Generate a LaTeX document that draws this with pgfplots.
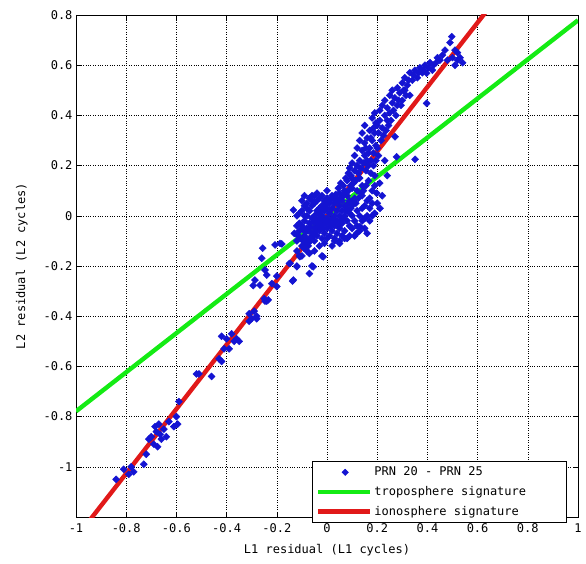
\documentclass[border=0pt]{standalone}
\usepackage{pgfplots}
\pgfplotsset{compat=1.18}
\usepackage{fontspec}
\setmainfont{DejaVu Sans Mono}
\definecolor{mblue}{RGB}{20,20,210}
\definecolor{mgreen}{RGB}{20,235,20}
\definecolor{mred}{RGB}{225,25,25}
\pgfplotstableread{
x y
-0.84 -1.05
-0.81 -1.01
-0.79 -1.03
-0.77 -1.02
-0.78 -1.00
-0.73 -0.99
-0.72 -0.95
-0.71 -0.89
-0.70 -0.88
-0.69 -0.91
-0.685 -0.84
-0.68 -0.86
-0.67 -0.83
-0.665 -0.87
-0.66 -0.89
-0.65 -0.85
-0.64 -0.88
-0.675 -0.92
-0.63 -0.82
-0.61 -0.84
-0.595 -0.83
-0.60 -0.80
-0.59 -0.74
-0.52 -0.63
-0.51 -0.63
-0.46 -0.64
-0.43 -0.57
-0.42 -0.58
-0.42 -0.48
-0.41 -0.53
-0.40 -0.49
-0.39 -0.53
-0.38 -0.47
-0.37 -0.50
-0.35 -0.50
-0.36 -0.49
-0.31 -0.42
-0.30 -0.41
-0.29 -0.38
-0.28 -0.40
-0.25 -0.33
-0.24 -0.34
-0.31 -0.39
-0.28 -0.41
-0.234 -0.335
-0.247 -0.34
-0.294 -0.278
-0.287 -0.256
-0.267 -0.276
-0.20 -0.282
-0.24 -0.236
-0.247 -0.216
-0.26 -0.169
-0.256 -0.129
-0.207 -0.116
-0.18 -0.112
-0.147 -0.189
-0.137 -0.26
-0.12 -0.203
-0.108 -0.163
-0.22 -0.27
-0.20 -0.24
-0.12 -0.10
-0.11 -0.06
-0.10 -0.12
-0.10 -0.04
-0.09 -0.08
-0.09 -0.02
-0.08 -0.11
-0.08 -0.05
-0.08 0.00
-0.07 -0.09
-0.07 -0.03
-0.07 0.02
-0.06 -0.07
-0.06 -0.01
-0.06 0.04
-0.05 -0.10
-0.05 -0.05
-0.05 0.00
-0.05 0.05
-0.04 -0.08
-0.04 -0.03
-0.04 0.02
-0.04 0.06
-0.03 -0.06
-0.03 -0.01
-0.03 0.03
-0.03 0.07
-0.02 -0.09
-0.02 -0.04
-0.02 0.00
-0.02 0.04
-0.01 -0.07
-0.01 -0.02
-0.01 0.02
-0.01 0.06
0.00 -0.05
0.00 -0.01
0.00 0.03
0.00 0.07
0.01 -0.08
0.01 -0.03
0.01 0.01
0.01 0.05
0.02 -0.06
0.02 -0.01
0.02 0.03
0.02 0.08
0.03 -0.04
0.03 0.00
0.03 0.05
0.04 -0.07
0.04 -0.02
0.04 0.02
0.04 0.07
0.05 -0.05
0.05 0.00
0.05 0.04
0.05 0.09
0.06 -0.03
0.06 0.02
0.06 0.06
0.07 -0.06
0.07 0.00
0.07 0.04
0.07 0.10
0.08 -0.02
0.08 0.03
0.08 0.08
0.09 -0.04
0.09 0.01
0.09 0.06
0.10 0.00
0.10 0.04
0.10 0.11
0.11 -0.02
0.11 0.07
0.12 0.02
0.12 0.10
-0.13 -0.07
-0.134 0.023
-0.11 0.01
-0.09 0.04
-0.06 0.08
-0.12 -0.14
-0.10 -0.16
-0.07 -0.15
-0.06 -0.20
-0.07 -0.23
-0.02 -0.16
-0.134 -0.256
-0.187 -0.11
-0.15 -0.19
-0.12 -0.20
-0.11 -0.16
-0.055 -0.203
-0.015 -0.163
0.02 -0.12
0.05 -0.10
0.08 -0.09
0.131 -0.043
0.118 -0.07
0.15 -0.01
0.17 0.03
0.16 0.06
0.211 0.03
0.198 0.09
0.18 0.10
0.14 0.08
0.14 0.12
0.13 0.15
0.10 0.15
0.11 0.18
0.08 0.14
0.09 0.19
0.10 0.21
0.11 0.24
0.12 0.20
0.12 0.27
0.13 0.22
0.13 0.30
0.14 0.26
0.14 0.33
0.15 0.24
0.15 0.29
0.15 0.36
0.16 0.31
0.16 0.22
0.17 0.27
0.17 0.34
0.18 0.39
0.18 0.30
0.19 0.33
0.19 0.41
0.20 0.36
0.20 0.27
0.21 0.42
0.21 0.38
0.22 0.44
0.22 0.35
0.23 0.40
0.23 0.46
0.24 0.43
0.24 0.38
0.25 0.48
0.25 0.41
0.26 0.45
0.26 0.50
0.27 0.47
0.271 0.315
0.277 0.235
0.28 0.51
0.28 0.44
0.29 0.49
0.30 0.53
0.30 0.46
0.31 0.55
0.31 0.50
0.32 0.52
0.33 0.57
0.33 0.48
0.34 0.54
0.35 0.58
0.351 0.225
0.36 0.55
0.37 0.59
0.38 0.57
0.39 0.60
0.397 0.568
0.397 0.448
0.41 0.61
0.42 0.58
0.424 0.60
0.435 0.61
0.44 0.63
0.45 0.62
0.46 0.64
0.47 0.66
0.48 0.62
0.49 0.69
0.497 0.714
0.50 0.63
0.51 0.60
0.52 0.62
0.52 0.65
0.53 0.63
0.54 0.61
0.51 0.66
0.23 0.22
0.19 0.16
0.21 0.13
0.24 0.16
-0.115 -0.08
-0.105 -0.09
-0.095 -0.05
-0.085 -0.065
-0.075 -0.06
-0.065 -0.045
-0.055 -0.025
-0.045 -0.015
-0.035 0.01
-0.025 0.02
-0.015 0.04
-0.005 0.045
0.005 0.06
0.015 0.065
0.025 0.07
0.035 0.085
0.045 0.06
0.055 0.07
0.065 0.08
0.075 0.09
0.085 0.10
0.095 0.12
0.105 0.13
0.115 0.14
-0.095 -0.10
-0.085 -0.09
-0.075 -0.12
-0.065 -0.10
-0.055 -0.08
-0.045 -0.06
-0.035 -0.04
-0.025 -0.02
-0.015 -0.05
-0.005 -0.03
0.005 -0.02
0.015 -0.04
0.025 -0.03
0.035 -0.02
0.045 -0.04
0.055 -0.02
0.065 -0.01
0.075 0.02
0.085 0.05
0.095 0.03
0.105 0.06
0.115 0.05
0.125 0.07
0.135 0.09
0.145 0.10
0.155 0.12
0.165 0.14
0.175 0.17
0.185 0.20
0.195 0.22
0.205 0.24
0.215 0.30
0.225 0.32
0.235 0.34
0.245 0.36
0.255 0.38
0.265 0.42
0.275 0.40
0.285 0.46
0.295 0.44
0.305 0.50
0.315 0.48
0.325 0.54
0.345 0.56
0.365 0.57
0.385 0.58
0.405 0.59
0.125 0.17
0.135 0.19
0.145 0.21
0.155 0.27
0.165 0.25
0.175 0.31
0.185 0.35
0.195 0.37
0.205 0.33
0.155 0.18
0.165 0.20
0.175 0.22
0.185 0.25
0.195 0.28
0.045 0.11
0.055 0.13
0.065 0.12
0.075 0.15
0.085 0.17
0.095 0.16
0.00 0.10
-0.02 0.08
-0.08 -0.14
-0.09 -0.13
0.03 -0.09
0.06 -0.08
0.10 -0.05
0.14 0.03
0.16 0.00
0.18 0.05
-0.10 0.06
-0.09 0.08
-0.08 0.05
-0.07 0.07
-0.12 -0.04
-0.11 -0.03
-0.12 0.00
-0.10 0.02
-0.09 0.00
-0.08 0.03
-0.06 0.06
-0.05 0.08
-0.04 0.09
0.03 -0.10
0.05 -0.11
0.07 -0.09
0.09 -0.08
0.11 -0.08
0.13 -0.06
0.15 -0.05
0.17 -0.02
0.16 -0.07
0.12 -0.04
0.14 -0.02
0.18 0.00
0.20 0.05
0.19 0.01
0.13 0.00
0.15 0.04
0.17 0.07
0.19 0.12
0.22 0.08
-0.03 -0.12
-0.05 -0.14
-0.01 -0.11
0.00 -0.09
}\scatterdata
\begin{document}
\begin{tikzpicture}
\begin{axis}[
  name=ax,
  scale only axis,
  width=502pt, height=502pt,
  xmin=-1, xmax=1, ymin=-1.2, ymax=0.8,
  xtick={-1,-0.8,-0.6,-0.4,-0.2,0,0.2,0.4,0.6,0.8,1},
  xticklabels={-1,-0.8,-0.6,-0.4,-0.2,0,0.2,0.4,0.6,0.8,1},
  ytick={-1,-0.8,-0.6,-0.4,-0.2,0,0.2,0.4,0.6,0.8},
  yticklabels={-1,-0.8,-0.6,-0.4,-0.2,0,0.2,0.4,0.6,0.8},
  tick align=inside,
  major tick length=5pt,
  tick style={black, line width=0.6pt},
  axis line style={black, line width=0.8pt},
  grid=major,
  major grid style={black, dotted, line width=0.6pt},
  ticklabel style={font=\fontsize{12}{14}\selectfont},
  xticklabel style={yshift=-3pt},
  xlabel={L1 residual (L1 cycles)},
  ylabel={L2 residual (L2 cycles)},
  label style={font=\fontsize{12}{14}\selectfont},
  xlabel style={yshift=-5pt},
  ylabel style={yshift=9pt},
  legend style={at={(0.977,-0.012)}, anchor=south east,
    font=\fontsize{12}{14}\selectfont, draw=black, line width=0.6pt,
    inner xsep=4pt, inner ysep=4pt, row sep=5pt,
    cells={anchor=west}},
  legend image code/.code={
    \draw[#1] (0cm,0cm) -- (52pt,0cm);},
]
\addplot[only marks, mark=square*, mark size=2.5pt, mark options={rotate=45}, color=mblue,
  legend image code/.code={\draw[only marks, mark=square*, mark size=2.2pt, mark options={rotate=45}, color=mblue] plot coordinates {(27pt,0cm)};}]
  table[x=x,y=y] {\scatterdata};
\addlegendentry{PRN 20 - PRN 25}
\addplot[mgreen, line width=4.4pt] coordinates {(-1,-0.779) (1,0.779)};
\addlegendentry{troposphere signature\hspace*{34pt}}
\addplot[mred, line width=4.4pt] coordinates {(-1,-1.283) (1,1.283)};
\addlegendentry{ionosphere signature}
\end{axis}
\path (ax.south west) ++(-76pt,-46pt) coordinate (bbA);
\path (ax.north east) ++(8pt,15pt) coordinate (bbB);
\path (bbA) rectangle (bbB);
\end{tikzpicture}
\end{document}
